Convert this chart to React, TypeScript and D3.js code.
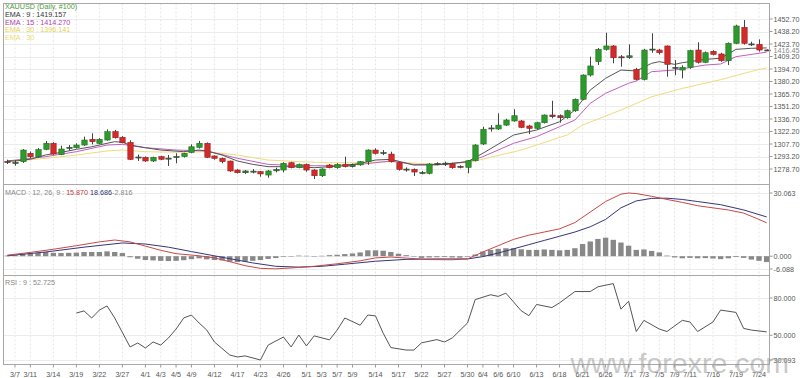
import React from 'react';
import * as d3 from 'd3';

// ---------- DATA ----------
// OHLC per daily candle: [open, high, low, close]
const candles: number[][] = [
  [1287.4,1289.5,1284.5,1287.0],[1285.5,1289,1282.5,1286.2],[1287.2,1301.8,1285.8,1300.7],[1296.9,1299,1291,1292.9],
  [1292.9,1303,1291.8,1301.1],[1301.5,1311.2,1300.5,1308.5],[1308.5,1309.8,1295.2,1296.1],[1295.7,1305.7,1294.8,1301.9],
  [1303.0,1306.5,1300.3,1303.8],[1303.4,1308.5,1302.5,1306.5],[1306.5,1316.2,1305.5,1312.3],[1313.1,1320.1,1307.3,1310.4],
  [1308.5,1314.5,1307.5,1313.1],[1312.3,1324.7,1311.5,1322],[1322,1324,1314,1315],[1315.5,1316.8,1308.5,1309.2],
  [1309.5,1312,1289,1289.9],[1292,1295.5,1288,1292.6],[1292.3,1293.2,1287,1288],[1288,1293,1286.8,1292.3],
  [1293,1294,1289,1290],[1290.5,1295,1282.2,1291.3],[1292.6,1297,1285.3,1293.2],[1293,1297.5,1292,1296.9],
  [1298,1307.3,1297,1304.5],[1303.8,1311.2,1302.5,1308.5],[1308.5,1309.5,1291.5,1292.3],[1293.8,1294.5,1289.5,1291.1],
  [1291.1,1292,1285.3,1287.2],[1287.9,1288.5,1275.5,1276.4],[1277.5,1278.5,1273.5,1274.4],[1274.4,1277.5,1273,1276.4],
  [1275.8,1278.7,1273.7,1276.2],[1275.6,1276.5,1269.8,1273],[1271.7,1277.5,1268.6,1276.4],[1276.6,1280.2,1274.8,1278],
  [1277.5,1286.5,1274.9,1285.3],[1286,1287,1279.5,1280.2],[1280.2,1285,1279.5,1284],[1284,1285,1275.6,1277.5],
  [1277.5,1278.5,1267.1,1270.9],[1270.9,1279.5,1269.5,1278.7],[1283.3,1284.5,1279.5,1280.2],[1280.2,1285.5,1279,1284],
  [1284,1293,1280.5,1281.4],[1281.5,1285,1280.5,1283.5],[1283.5,1288,1282.5,1287.2],[1287.2,1301.5,1283.5,1300.7],
  [1300.7,1302.7,1295.5,1296.9],[1297.2,1300.7,1294.9,1297.8],[1296,1298.8,1286.2,1287.2],[1286,1287,1276.8,1278.3],
  [1278,1280.6,1275.6,1278.6],[1278.3,1279.3,1270.6,1275.2],[1274.2,1276.5,1272.5,1274.6],[1273.7,1285.5,1272.5,1284.5],
  [1284,1286.5,1283,1285],[1285.0,1287.2,1282.2,1285.5],[1284.5,1286,1279,1280.2],[1281.8,1283,1279.5,1281.2],
  [1280.6,1289,1273.7,1288.3],[1288.3,1307.5,1287.5,1306.5],[1307.7,1327.8,1306.5,1324.7],[1325.5,1329.7,1322,1326.3],
  [1325.1,1343.3,1324,1329.6],[1329.6,1337,1328.5,1335.5],[1334.4,1348.1,1333.5,1340.5],[1334.4,1335.5,1326,1327],
  [1328.6,1330,1319.3,1325.9],[1325.9,1333.5,1324.5,1332.4],[1332.4,1342,1331.5,1341.3],[1341.3,1357.9,1337.5,1339.4],
  [1340.5,1342,1332.4,1338.2],[1338.2,1347.5,1337,1346.3],[1346.3,1360.5,1345,1359.5],[1359.5,1388.5,1358.5,1387.7],
  [1387.7,1409,1386,1398.2],[1403.2,1419,1399.3,1417.5],[1417.5,1436.8,1416,1421.4],[1421.4,1422.5,1401.3,1407.8],
  [1408.8,1410.9,1397.4,1408.2],[1408,1423.3,1406.5,1410],[1394.3,1396,1381.5,1382.7],[1382.7,1418,1381.5,1416.7],
  [1417.2,1436.1,1413.5,1417.8],[1416.7,1418,1411.5,1413.6],[1421.4,1422,1385.8,1400.1],[1396.2,1405,1387.5,1396.6],
  [1393.5,1399,1383.9,1396.7],[1396.7,1417,1395,1416],[1416.7,1425.7,1401,1402.5],[1402.5,1415,1401.5,1413.6],
  [1415.2,1416.5,1410.5,1411.7],[1412.1,1413.5,1403,1404.3],[1404.3,1425.5,1399.3,1424.5],[1424.5,1446,1423.5,1444.6],
  [1443,1451.5,1423,1424.5],[1423.3,1426.4,1421.4,1423.8],[1423.3,1429.1,1414.8,1416.7],[1416.8,1417.5,1415.5,1416.45],
];

// EMA lines: [candle index, value]
const ema9: number[][] = [
  [0,1288],[1,1288],[3,1290],[5,1295],[7,1298],[9,1301.5],[11,1304.5],[13,1308.5],[14,1310.4],[15,1309.7],
  [16,1306.5],[18,1303.4],[20,1300.7],[23,1298.8],[25,1300.7],[26,1299.6],[28,1294.9],[30,1288],[32,1284.1],
  [34,1281.4],[36,1281.4],[38,1281.4],[40,1280.2],[42,1281.4],[44,1282.5],[46,1285.3],[48,1289.1],[50,1289.9],
  [53,1283.3],[56,1283.5],[60,1287.2],[62,1296.9],[66,1318.1],[69,1323.9],[72,1333.5],[74,1347.1],[76,1370.3],
  [78,1383.9],[80,1393.5],[82,1392.4],[84,1401.3],[85,1403.2],[87,1400.1],[88,1402],[91,1405.9],[93,1407.1],
  [95,1417.5],[97,1418.7],[99,1419.157],
];
const ema15: number[][] = [
  [0,1288],[5,1293],[9,1298.8],[13,1306.5],[15,1307.3],[18,1303.4],[22,1300.7],[26,1299.6],[30,1291.1],
  [34,1284.1],[38,1282.5],[42,1282.5],[46,1284.1],[50,1288],[53,1284],[57,1283.8],[60,1287.2],[62,1293],
  [66,1308.5],[69,1316.2],[72,1327.8],[74,1335.5],[76,1354.9],[78,1366.5],[81,1378.1],[82,1380.8],[84,1391.6],
  [87,1393.5],[91,1399.3],[93,1400.5],[95,1409],[99,1414.27],
];
const ema30: number[][] = [
  [0,1287],[5,1291.1],[9,1294.9],[13,1299.6],[15,1300.7],[18,1298.8],[22,1298.1],[26,1298.8],[30,1294.9],
  [34,1289.1],[38,1287.2],[42,1286],[46,1286],[50,1287.2],[55,1284.5],[60,1286],[67,1300.7],[73,1318.1],
  [75,1329.7],[80,1347.1],[84,1362.5],[88,1372.2],[93,1382.3],[97,1391.9],[99,1396.141],
];

// MACD (12,26,9)
const macdLine: number[][] = [
  [0,0.5],[3,1.8],[6,3.3],[9,5],[12,6.8],[14,7.7],[16,6.8],[18,4.8],[20,2.8],[22,1.2],[25,0.2],[27,-0.8],
  [29,-2.6],[31,-4.5],[33,-5.8],[35,-6.0],[37,-5.6],[40,-4.8],[43,-3.6],[46,-2.2],[48,-0.8],[50,-0.4],
  [52,-0.9],[55,-1.6],[58,-1.7],[60,-1.3],[62,2],[64,5],[66,8],[68,10],[70,11.5],[72,13],[74,16],[76,21],
  [78,26],[80,29.5],[81,30.06],[82,29.8],[84,28.5],[86,27],[88,25.6],[90,24],[92,23],[94,22],[96,20.5],
  [98,17.5],[99,15.87],
];
const signalLine: number[][] = [
  [0,0.2],[5,2],[10,4.3],[15,6.3],[18,5.8],[21,4.3],[24,2.2],[28,-0.5],[32,-3.2],[35,-4.8],[38,-5.2],
  [41,-4.8],[44,-3.8],[48,-2.4],[52,-1.5],[56,-1.3],[60,-1.3],[62,-0.2],[64,1.5],[66,3.5],[68,5.5],[70,7.5],
  [72,9.5],[74,11.5],[76,14],[78,17.5],[80,23],[82,26.3],[84,27.5],[86,27.6],[88,27],[90,26],[93,24.5],
  [96,22],[99,18.686],
];
const macdHist: number[] = [
  0.3,0.5,1.2,1.3,1.6,2.0,1.6,1.5,1.6,1.7,2.0,2.0,2.0,2.3,2.0,1.5,
  -0.5,-1.2,-1.8,-2.0,-2.2,-2.3,-2.2,-1.9,-1.4,-1.0,-1.5,-1.8,-2.0,-2.6,-2.8,
  -2.6,-2.2,-1.8,-1.3,-0.9,-0.3,0.0,0.3,0.2,-0.2,0.2,0.5,0.7,1.0,1.3,
  1.8,2.8,2.8,2.6,2.0,1.2,0.5,-0.2,
  -0.8,-0.6,-0.5,-0.4,-0.6,-0.7,-0.3,
  0.8,2.2,3.0,3.5,3.8,3.8,3.3,3.0,3.0,3.2,3.0,2.8,3.0,3.8,5.8,7.0,8.2,8.8,7.8,6.5,5.0,3.0,3.2,2.5,1.8,
  0.3,-0.6,-1.0,-0.8,-1.0,-0.9,-1.1,-1.4,-1.0,-0.4,-0.8,-1.6,-2.2,-2.8,
];

// RSI (9)
const rsi: number[][] = [
  [9,67.9],[10,69.6],[11,63.9],[12,70.3],[13,73.6],[14,63.9],[16,40.6],[17,43.8],[18,39.8],[19,44.6],[20,42.1],
  [21,47.8],[22,55],[23,63.9],[24,66.3],[25,59.9],[26,54.2],[27,44.6],[29,34.1],[30,32.5],[31,33.4],[33,30.093],
  [34,42.1],[36,48.6],[37,40.6],[38,50.2],[39,41.4],[40,49.5],[42,46.3],[43,54.2],[44,63.9],[46,58.1],[47,66.3],
  [48,65.6],[49,51.7],[50,40.1],[52,38.1],[53,38.1],[54,43.9],[56,46.5],[57,44.6],[58,47.8],[60,59.9],[61,78.7],
  [63,82.6],[64,81.3],[65,83.9],[67,69.7],[68,65.8],[69,74.8],[71,72.3],[72,76.1],[74,85.2],[76,85.2],[77,89],
  [79,91.6],[80,71],[81,77.4],[82,53],[83,62],[85,55],[86,53],[88,62],[89,60.7],[90,53],[92,60.7],[93,70.3],
  [95,68.4],[96,55.5],[97,54.2],[99,52.725],
];

const priceTicks = [1278.7,1293.2,1307.7,1322.2,1336.7,1351.2,1365.7,1380.2,1394.7,1409.2,1423.7,1438.2,1452.7];
const macdTicks = [-6.088, 0, 30.063];
const rsiTicks = [30.093, 50, 80];
const dateLabels = ['3/7','3/11','3/14','3/19','3/22','3/27','4/1','4/3','4/5','4/9','4/12','4/17','4/23','4/26',
  '5/1','5/3','5/7','5/9','5/14','5/17','5/22','5/27','5/30','6/4','6/6','6/10','6/13','6/18','6/21','6/26',
  '7/1','7/3','7/5','7/9','7/11','7/16','7/19','7/24'];
const dateIndex = [1,3,6,9,12,15,18,20,22,24,27,30,33,36,39,41,43,45,48,51,54,57,60,62,64,66,69,72,75,78,
  81,83,85,87,89,92,95,98];

const lastPrice = 1416.45;

// ---------- LAYOUT ----------
const W = 800, H = 378;
const L = 3.5, R = 769.5;
const mainTop = 3.5;
const macdTop = 184.5;
const rsiTop = 275.5, rsiBot = 364.5;
const FONT = 'Liberation Sans, Arial, sans-serif';

export default function App() {
  const x = d3.scaleBand<number>().domain(d3.range(candles.length)).range([L, R + 1]).paddingInner(0.3).paddingOuter(0.15);
  const cx = (i: number) => (x(i) as number) + x.bandwidth() / 2;
  const y = d3.scaleLinear().domain([1278.7, 1452.7]).range([169, 19]);
  const ym = d3.scaleLinear().domain([-6.088, 30.063]).range([269, 193]);
  const yr = d3.scaleLinear().domain([30.093, 80]).range([360, 298]);

  const mk = (ys: d3.ScaleLinear<number, number>) =>
    d3.line<number[]>().x(d => cx(d[0])).y(d => ys(d[1]));
  const bw = Math.max(3, x.bandwidth());

  return (
    <svg width={W} height={H} style={{ position: 'absolute', left: 0, top: 0, background: '#fff' }}
      fontFamily={FONT}>
      <rect x={0} y={0} width={W} height={H} fill="#fff" />
      {/* vertical grid */}
      {dateIndex.map((d, k) => (
        <line key={'vg' + k} x1={cx(d)} x2={cx(d)} y1={mainTop} y2={rsiBot} stroke="#e4e4e4" strokeDasharray="2,2" strokeWidth={1} />
      ))}
      {/* horizontal grid */}
      {priceTicks.map((p, k) => (
        <line key={'hg' + k} x1={L} x2={R} y1={Math.round(y(p)) + 0.5} y2={Math.round(y(p)) + 0.5} stroke="#ececec" />
      ))}
      {macdTicks.map((p, k) => (
        <line key={'mg' + k} x1={L} x2={R} y1={Math.round(ym(p)) + 0.5} y2={Math.round(ym(p)) + 0.5} stroke="#ececec" />
      ))}
      {rsiTicks.map((p, k) => (
        <line key={'rg' + k} x1={L} x2={R} y1={Math.round(yr(p)) + 0.5} y2={Math.round(yr(p)) + 0.5} stroke="#ececec" />
      ))}

      {/* EMA lines */}
      <path d={mk(y)(ema30) || ''} fill="none" stroke="#eedc7a" strokeWidth={1} />
      <path d={mk(y)(ema15) || ''} fill="none" stroke="#c060c0" strokeWidth={1} />
      <path d={mk(y)(ema9) || ''} fill="none" stroke="#555" strokeWidth={1} />

      {/* candles */}
      {candles.map((c, i) => {
        const [o, h, l, cl] = c;
        const up = cl >= o;
        const fill = up ? '#2d9a2d' : '#d42a2a';
        const stroke = up ? '#1e6e1e' : '#9a1c1c';
        const top = y(Math.max(o, cl));
        const bh = Math.max(1, Math.abs(y(o) - y(cl)));
        const xc = Math.round(cx(i)) + 0.5;
        return (
          <g key={'c' + i}>
            <line x1={xc} x2={xc} y1={y(h)} y2={y(l)} stroke="#444" strokeWidth={1} />
            <rect x={xc - bw / 2} y={top} width={bw} height={bh} fill={fill} stroke={bh < 2 ? '#333' : stroke} strokeWidth={0.6} />
          </g>
        );
      })}

      {/* MACD histogram */}
      {macdHist.map((v, i) => (
        <rect key={'h' + i} x={x(i) as number} width={x.bandwidth()} y={Math.min(ym(v), ym(0))}
          height={Math.max(0.5, Math.abs(ym(v) - ym(0)))} fill="#888" />
      ))}
      <path d={mk(ym)(signalLine) || ''} fill="none" stroke="#35357a" strokeWidth={1} />
      <path d={mk(ym)(macdLine) || ''} fill="none" stroke="#c84848" strokeWidth={1} />

      {/* RSI */}
      <path d={mk(yr)(rsi) || ''} fill="none" stroke="#555" strokeWidth={1} />

      {/* panel frames */}
      <rect x={L} y={mainTop} width={R - L} height={rsiBot - mainTop} fill="none" stroke="#a8a8a8" />
      <line x1={L} x2={R} y1={macdTop} y2={macdTop} stroke="#a8a8a8" />
      <line x1={L} x2={R} y1={rsiTop} y2={rsiTop} stroke="#a8a8a8" />

      {/* right axis */}
      {priceTicks.map((p, k) => (
        <g key={'pt' + k}>
          <line x1={R} x2={R + 3} y1={y(p)} y2={y(p)} stroke="#999" />
          <text x={R + 4} y={y(p) + 2.5} fontSize={7.2} fill="#555">{p.toFixed(2)}</text>
        </g>
      ))}
      <text x={R + 4} y={y(lastPrice) + 2.5} fontSize={7.2} fill="#888">{lastPrice.toFixed(2)}</text>
      {macdTicks.map((p, k) => (
        <g key={'mt' + k}>
          <line x1={R} x2={R + 3} y1={ym(p)} y2={ym(p)} stroke="#999" />
          <text x={R + 4} y={ym(p) + 2.5} fontSize={7.2} fill="#555">{p.toFixed(3)}</text>
        </g>
      ))}
      {rsiTicks.map((p, k) => (
        <g key={'rt' + k}>
          <line x1={R} x2={R + 3} y1={yr(p)} y2={yr(p)} stroke="#999" />
          <text x={R + 4} y={yr(p) + 2.5} fontSize={7.2} fill="#555">{p.toFixed(3)}</text>
        </g>
      ))}

      {/* bottom axis */}
      {dateIndex.map((d, k) => (
        <g key={'dt' + k}>
          <line x1={cx(d)} x2={cx(d)} y1={rsiBot} y2={rsiBot + 3} stroke="#999" />
          <text x={cx(d)} y={376.5} fontSize={7.2} fill="#555" textAnchor="middle">{dateLabels[k]}</text>
        </g>
      ))}

      {/* legends */}
      <text x={5} y={9} fontSize={7.2} fill="#4c9a3c">XAUUSD (Daily, #100)</text>
      <text x={5} y={16.8} fontSize={7.2} fill="#333">EMA : 9 : 1419.157</text>
      <text x={5} y={24.5} fontSize={7.2} fill="#b03cb0">EMA : 15 : 1414.270</text>
      <text x={5} y={32.2} fontSize={7.2} fill="#e6d050">EMA : 30 : 1396.141</text>
      <text x={5} y={39.6} fontSize={7.2} fill="#ecdc70">EMA : 30</text>
      <text x={5} y={194.5} fontSize={7.2} fill="#888">
        MACD : 12, 26, 9 : <tspan fill="#c03838">15.870</tspan> <tspan fill="#303070">18.686</tspan>
        <tspan fill="#888">-2.816</tspan>
      </text>
      <text x={5} y={285} fontSize={7.2} fill="#888">RSI : 9 : 52.725</text>

      {/* watermark */}
      <text x={789} y={373} fontSize={28.5} fill="#9a9a9a" fillOpacity={0.55} textAnchor="end">www.forexre.com</text>
    </svg>
  );
}
